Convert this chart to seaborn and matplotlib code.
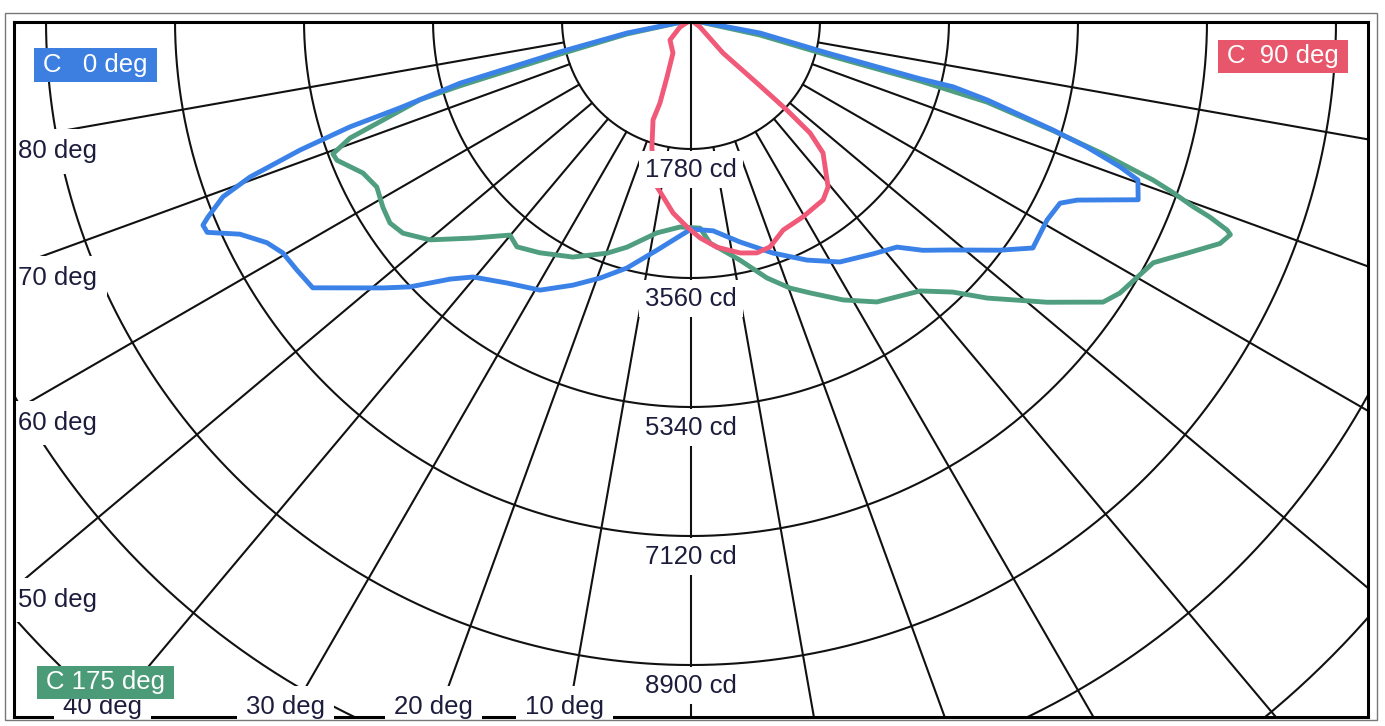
import numpy as np
import pandas as pd
import matplotlib.pyplot as plt
from matplotlib.patches import Rectangle
import seaborn as sns

# ── Data: luminous intensity per C-plane (gamma in deg, intensity in cd) ──
# negative gamma = left half of the diagram, positive = right half
c0_gamma = [-90, -78.5, -76.3, -74.7, -73.2, -72.6, -71.6, -70.4, -69.3, -67.8,
            -67.2, -66.3, -64.6, -62.3, -60.3, -57.6, -54.7, -49.0, -46.5, -42.9,
            -40.3, -35.0, -29.2, -24.0, -19.4, -14.5, -8.4, 0, 6.0, 12.4,
            19.4, 25.8, 31.6, 37.9, 42.2, 45.2, 48.4, 53.3, 56.3, 60.7,
            63.6, 65.0, 68.1, 70.3, 71.1, 72.2, 73.1, 73.9, 74.9, 75.7,
            75.6, 76.4, 79.3, 90]
c0_cd = [0, 900, 1860, 3300, 4195, 4930, 5685, 6460, 6905, 7200,
         7305, 7290, 6890, 6610, 6485, 6440, 6395, 5635, 5350, 4880,
         4650, 4430, 4270, 4005, 3775, 3535, 3210, 2885, 2925, 3135,
         3410, 3680, 3920, 4090, 4230, 4510, 4780, 5315, 5670, 5635,
         5685, 5880, 6650, 6550, 6260, 5740, 5220, 4725, 4230, 3730,
         3265, 1930, 970, 0]

c90_gamma = [-90, -57.5, -46.4, -28.6, -22.8, -20.5, -20.8, -17.1, -14.5, -11.5,
             -5.3, -1.1, 2.4, 6.5, 11.9, 15.8, 19.2, 23.7, 29.6, 36.3,
             39.4, 44.8, 46.5, 46.8, 46.3, 44.1, 52.1, 90]
c90_cd = [0, 180, 400, 520, 855, 1225, 1475, 1835, 2095, 2350,
          2675, 2855, 3010, 3155, 3285, 3340, 3315, 3165, 3125, 3080,
          2980, 2585, 2265, 1815, 1260, 635, 155, 0]

c175_gamma = [-90, -77.7, -75.4, -74.1, -73.6, -72.0, -70.9, -69.5, -68.4, -65.0,
              -62.0, -58.7, -56.0, -53.5, -49.9, -45.0, -40.1, -37.5, -33.0, -26.5,
              -19.8, -15.7, -9.1, -3.0, 2.5, 4.9, 11.5, 16.4, 20.3, 23.6,
              28.5, 33.4, 40.2, 43.9, 46.8, 51.6, 55.6, 57.5, 60.0, 62.3,
              64.8, 67.1, 68.3, 68.6, 69.2, 69.6, 70.3, 70.9, 71.3, 72.0,
              73.0, 74.5, 75.1, 75.6, 77.7, 90]
c175_cd = [0, 905, 1870, 3315, 3900, 4470, 4980, 5275, 5255, 4995,
           4910, 4975, 5010, 4945, 4710, 4255, 3880, 3945, 3830, 3655,
           3420, 3255, 2975, 2860, 2875, 3090, 3380, 3710, 3945, 4110,
           4395, 4660, 4895, 5210, 5605, 6270, 6890, 7015, 7105, 7205,
           7560, 7925, 8010, 7945, 7660, 7395, 7065, 6745, 6440, 5980,
           5225, 4240, 3270, 1940, 975, 0]

ring_step = 1780
ring_labels = ['1780 cd', '3560 cd', '5340 cd', '7120 cd', '8900 cd']
side_angles = [80, 70, 60, 50]
bottom_angles = [40, 30, 20, 10]
legend_labels = ['C   0 deg', 'C  90 deg', 'C 175 deg']

# ── Layout (figure pixels) ─────────────────────────────────
W, H = 1385, 726
CX, CY = 691, 20              # pole of the diagram
CD_PER_PX = ring_step / 129
LEFT, RIGHT, TOP, BOTTOM = 14, 1368, 22, 717

sns.set_theme(style='white')
plt.rcParams['font.family'] = ['Liberation Sans', 'DejaVu Sans']

fig = plt.figure(figsize=(W / 100, H / 100), dpi=100)
fig.patch.set_facecolor('white')
ax = fig.add_axes([LEFT / W, 1 - BOTTOM / H, (RIGHT - LEFT) / W, (BOTTOM - TOP) / H])

# ── Polar grid: rings every 1780 cd, rays every 10 deg ─────
grid_kw = dict(color='#111111', lw=1.5, zorder=1)
t = np.linspace(-np.pi, np.pi, 1441)
for n in range(1, 9):
    r = n * ring_step
    ax.plot(r * np.sin(t), -r * np.cos(t), **grid_kw)
for a in range(-90, 91, 10):
    r = np.array([0 if a == 0 else ring_step, 9 * ring_step])
    ax.plot(r * np.sin(np.radians(a)), -r * np.cos(np.radians(a)), **grid_kw)

# ── Curves ─────────────────────────────────────────────────
curves = [(c175_gamma, c175_cd, '#4f9e80'),
          (c0_gamma, c0_cd, '#3b82e8'),
          (c90_gamma, c90_cd, '#f05a78')]
for g, cd, col in curves:
    g = np.radians(g)
    cd = np.asarray(cd, dtype=float)
    df = pd.DataFrame({'x': cd * np.sin(g), 'y': -cd * np.cos(g)})
    sns.lineplot(data=df, x='x', y='y', sort=False, estimator=None,
                 color=col, lw=3.5, ax=ax, zorder=4)

xmin, xmax = (LEFT - CX) * CD_PER_PX, (RIGHT - CX) * CD_PER_PX
ymin, ymax = -(BOTTOM - CY) * CD_PER_PX, -(TOP - CY) * CD_PER_PX
ax.set_xlim(xmin, xmax)
ax.set_ylim(ymin, ymax)
ax.set_xticks([])
ax.set_yticks([])
ax.set_xlabel('')
ax.set_ylabel('')
ax.set_facecolor('white')
for name, s in ax.spines.items():
    s.set_visible(True)
    s.set_color('black')
    s.set_linewidth(2.2)
    s.set_zorder(2.5 if name == 'bottom' else 7)

# ── Labels ─────────────────────────────────────────────────
def lab_kw(pad):
    return dict(fontsize=18.5, color='#1c1c3c', zorder=6, annotation_clip=False,
                textcoords='offset points',
                bbox=dict(boxstyle=f'square,pad={pad}', fc='white', ec='none'))

for n, lab in enumerate(ring_labels, 1):
    ax.annotate(lab, xy=(0, -n * ring_step), xytext=(0, -15),
                ha='center', va='center', **lab_kw(0.25))

for a in side_angles:
    y = xmin / np.tan(np.radians(a))
    ax.annotate(f'{a} deg', xy=(xmin, y), xytext=(3, 0),
                ha='left', va='top', **lab_kw(0.4))

for a in bottom_angles:
    x = ymin * np.tan(np.radians(a))
    ax.annotate(f'{a} deg', xy=(x, ymin), xytext=(-2.5, 2.2),
                ha='center', va='baseline', **lab_kw(0.35))

# ── Legend boxes ───────────────────────────────────────────
legend_boxes = [(34, 48, 157, 82), (1218, 40, 1348, 73), (37, 666, 174, 699)]
legend_colors = ['#3d7fe0', '#e8566b', '#4b9b78']
for lab, (x0, y0, x1, y1), col in zip(legend_labels, legend_boxes, legend_colors):
    fig.patches.append(Rectangle((x0 / W, 1 - y1 / H), (x1 - x0) / W, (y1 - y0) / H,
                                 transform=fig.transFigure, fc=col, ec='none', zorder=8))
    fig.text((x0 + x1) / 2 / W, 1 - (y0 + y1) / 2 / H, lab, color='white',
             fontsize=18.5, ha='center', va='center', zorder=9)

# outer thin frame
fig.patches.append(Rectangle((5 / W, 1 - 720 / H), (1377 - 5) / W, (720 - 13) / H,
                             transform=fig.transFigure, fill=False, ec='#777777',
                             lw=1, zorder=0))

fig.savefig('out.png', dpi=100)
plt.close(fig)
